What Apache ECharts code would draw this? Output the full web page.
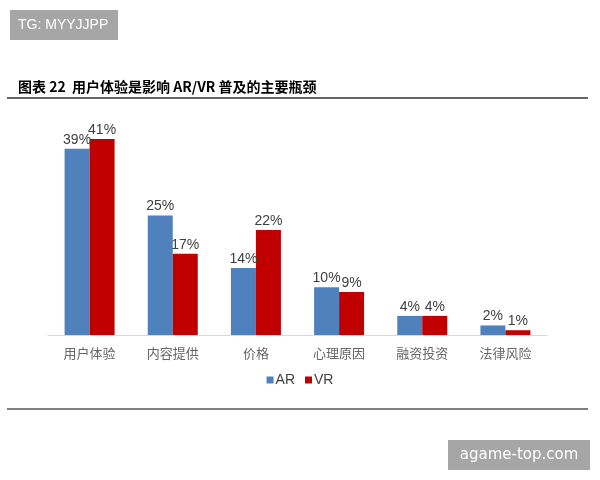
<!DOCTYPE html>
<html>
<head>
<meta charset="utf-8">
<script src="https://cdn.jsdelivr.net/npm/echarts@6/dist/echarts.min.js"></script>
<style>
    html, body { margin: 0; padding: 0; background: #fff; }
    #chart { width: 600px; height: 480px; }
</style>
</head>
<body>
<div id="chart"></div>
<script>
// data
const categories = ['用户体验', '内容提供', '价格', '心理原因', '融资投资', '法律风险']
const arValues = [39, 25, 14, 10, 4, 2]
const vrValues = [41, 17, 22, 9, 4, 1]
const seriesNames = ['AR', 'VR']

let chart = echarts.init(document.querySelector('#chart'))

function drawChart() {
    let labelStyle = {
        show: true,
        position: 'top',
        distance: 2,
        formatter: '{c}%',
        color: '#404040',
        fontSize: 14,
        fontFamily: 'Liberation Sans, Arial, sans-serif'
    }

    let option = {
        backgroundColor: '#fff',
        animation: false,
        grid: {
            left: 48,
            right: 53,
            top: 120,
            bottom: 145
        },
        legend: {
            data: seriesNames,
            bottom: 88,
            left: 'center',
            itemWidth: 7,
            itemHeight: 7,
            itemGap: 10,
            icon: 'rect',
            textStyle: {
                color: '#404040',
                fontSize: 14,
                fontFamily: 'Liberation Sans, Arial, sans-serif',
                padding: [0, 0, 0, -3]
            }
        },
        xAxis: {
            type: 'category',
            data: categories,
            axisLine: { lineStyle: { color: '#d9d9d9' } },
            axisTick: { show: false },
            axisLabel: {
                color: '#666',
                fontSize: 13,
                margin: 12,
                fontFamily: 'Noto Sans CJK SC'
            }
        },
        yAxis: {
            type: 'value',
            min: 0,
            max: 45,
            show: false,
            splitLine: { show: false }
        },
        series: [{
            name: seriesNames[0],
            type: 'bar',
            data: arValues,
            barWidth: 25,
            barGap: '0%',
            itemStyle: { color: '#4f81bd' },
            label: labelStyle
        }, {
            name: seriesNames[1],
            type: 'bar',
            data: vrValues,
            barWidth: 25,
            itemStyle: { color: '#c00000' },
            label: labelStyle
        }],
        graphic: [
            // watermark top-left
            {
                type: 'rect',
                shape: { x: 10, y: 10, width: 108, height: 30 },
                style: { fill: '#a6a6a6' }
            },
            {
                type: 'text',
                x: 18, y: 25,
                style: {
                    text: 'TG: MYYJJPP',
                    fill: '#fff',
                    fontSize: 14,
                    fontFamily: 'Liberation Sans, Arial, sans-serif',
                    verticalAlign: 'middle'
                }
            },
            // title
            {
                type: 'text',
                x: 18, y: 87,
                style: {
                    text: '图表 22  用户体验是影响 AR/VR 普及的主要瓶颈',
                    fill: '#000',
                    fontSize: 14,
                    fontWeight: 'bold',
                    fontFamily: 'Noto Sans CJK SC',
                    verticalAlign: 'middle'
                }
            },
            {
                type: 'line',
                shape: { x1: 7, y1: 98, x2: 588, y2: 98 },
                style: { stroke: '#333', lineWidth: 1.5 }
            },
            // bottom rule
            {
                type: 'line',
                shape: { x1: 7, y1: 409, x2: 588, y2: 409 },
                style: { stroke: '#555', lineWidth: 1.5 }
            },
            // watermark bottom-right
            {
                type: 'rect',
                shape: { x: 448, y: 440, width: 142, height: 30 },
                style: { fill: '#a6a6a6' }
            },
            {
                type: 'text',
                x: 519, y: 455,
                style: {
                    text: 'agame-top.com',
                    fill: '#fff',
                    fontSize: 15,
                    fontFamily: 'DejaVu Sans, sans-serif',
                    align: 'center',
                    verticalAlign: 'middle'
                }
            }
        ]
    }

    chart.setOption(option)
}

drawChart()
</script>
</body>
</html>
